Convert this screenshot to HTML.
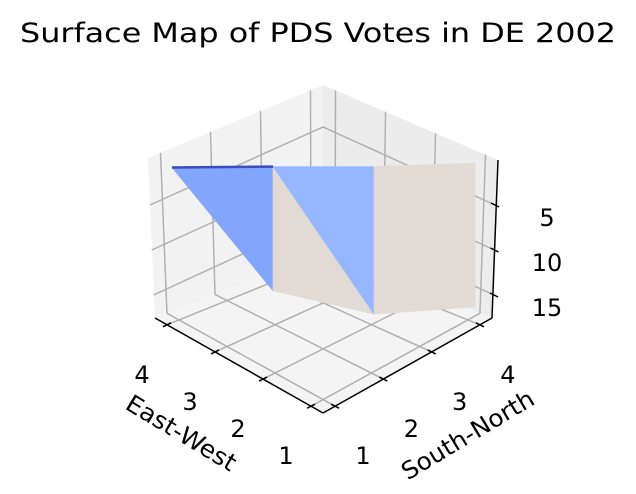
<!DOCTYPE html>
<html><head><meta charset="utf-8"><style>
html,body{margin:0;padding:0;background:#fff}
svg{display:block;font-family:"DejaVu Sans","Liberation Sans",sans-serif}
</style></head><body>
<svg id="chart" width="636" height="494" viewBox="0 0 636 494">
<text x="318" y="42" font-size="27" text-anchor="middle" textLength="596" lengthAdjust="spacingAndGlyphs" fill="#000">Surface Map of PDS Votes in DE 2002</text>
<g id="box">
<polygon points="148,158 323,85 323,252 155,318" fill="#f2f2f2"/>
<polygon points="323,85 498,160 492,318 323,252" fill="#ececec"/>
<polygon points="155,318 323,252 492,318 323,413" fill="#f4f4f4"/>
</g>
<g id="grid" stroke="#b0b0b0" stroke-width="1.5" fill="none"></g>
<g id="surface"></g>
<g id="axes" stroke="#000" stroke-width="1.5">
<line x1="155" y1="318" x2="323" y2="413"/>
<line x1="323" y1="413" x2="492" y2="318"/>
<line x1="498" y1="160" x2="492" y2="318"/>
</g>
<g id="labels" font-size="24" fill="#000"></g>
<text transform="translate(177,440) rotate(31)" font-size="24" text-anchor="middle" textLength="124" lengthAdjust="spacingAndGlyphs">East-West</text>
<text transform="translate(472,442) rotate(-31)" font-size="24" text-anchor="middle" textLength="150" lengthAdjust="spacingAndGlyphs">South-North</text>
</svg>
<script>
const xTicks=[4,3,2,1];
const yTicks=[1,2,3,4];
const zTicks=[5,10,15];
// surface columns (along the view) with top/bottom z values
const cols=[1,2,3,4];
const topZ=[-0.5,-0.6,-0.6,-1.0];
const botZ=[-0.5,13.2,15.8,15.0];
const faceColors=["#82a6fb","#e2dad5","#96b7ff","#e2dad5"];

const NS="http://www.w3.org/2000/svg";
function mk(tag,attrs,parent){const e=document.createElementNS(NS,tag);for(const k in attrs)e.setAttribute(k,attrs[k]);parent.appendChild(e);return e;}
const colX=c=>172+(c-1)*101;
const zY=z=>217+(z-5)*9;
const lerp=(a,b,t)=>[a[0]+(b[0]-a[0])*t,a[1]+(b[1]-a[1])*t];
const L=[155,318],F=[323,413],R=[492,318],B=[323,252],TL=[148,158],TB=[323,85],TR=[498,160];
const xT=x=>(x-0.75)/3.5;
const yT=y=>(y-0.75)/3.5;
const grid=document.getElementById('grid');
xTicks.forEach(x=>{
  const t=xT(x);const p=lerp(F,L,t),q=lerp(R,B,t),top=lerp(TR,TB,t),bot=lerp(R,B,t);
  const g=mk('line',{x1:p[0],y1:p[1],x2:q[0],y2:q[1]},grid);
  
  const v=mk('line',{x1:bot[0],y1:bot[1],x2:top[0],y2:top[1]},grid);
  
});
yTicks.forEach(y=>{
  const t=yT(y);const p=lerp(F,R,t),q=lerp(L,B,t),top=lerp(TL,TB,t);
  const g=mk('line',{x1:p[0],y1:p[1],x2:q[0],y2:q[1]},grid);
  
  const v=mk('line',{x1:q[0],y1:q[1],x2:top[0],y2:top[1]},grid);
  
});
zTicks.forEach(z=>{
  const l=mk('polyline',{points:`${150+(z-5)*0.35},${zY(z)-12} 323,${zY(z)-90} ${495-(z-5)*0.1},${zY(z)-12}`},grid);
  
});
const surf=document.getElementById('surface');
const P=i=>[colX(cols[i]),zY(topZ[i])], Q=i=>[colX(cols[i]),zY(botZ[i])];
const faces=[
 [P(0),P(1),Q(1)],
 [P(1),Q(2),Q(1)],
 [P(1),P(2),Q(2)],
 [P(2),P(3),Q(3),Q(2)]
];
faces.forEach((f,i)=>{
  const e=mk('polygon',{points:f.map(p=>p.join(',')).join(' '),fill:faceColors[i],stroke:faceColors[i],'stroke-width':0.6},surf);
  
});
const edge=mk('line',{x1:colX(1),y1:zY(topZ[0]),x2:colX(2),y2:zY(topZ[1]),stroke:'#3b4cc0','stroke-width':2.5},surf);

const lab=document.getElementById('labels'),ax=document.getElementById('axes');
xTicks.forEach(x=>{
  const p=lerp(F,L,xT(x));
  const tk=mk('line',{x1:p[0]-4,y1:p[1]+2,x2:p[0]+4,y2:p[1]-2},ax);
  
  const t=mk('text',{x:p[0]-25,y:p[1]+58,'text-anchor':'middle'},lab);t.textContent=x;
  
});
yTicks.forEach(y=>{
  const p=lerp(F,R,yT(y));
  const tk=mk('line',{x1:p[0]-4,y1:p[1]-2,x2:p[0]+4,y2:p[1]+2},ax);
  
  const t=mk('text',{x:p[0]+28,y:p[1]+58,'text-anchor':'middle'},lab);t.textContent=y;
  
});
zTicks.forEach(z=>{
  const yy=zY(z)-12;const xx=495-(z-5)*0.1;
  const tk=mk('line',{x1:xx-4,y1:yy-2,x2:xx+4,y2:yy+2},ax);
  
  const t=mk('text',{x:547,y:zY(z)+9,'text-anchor':'middle'},lab);t.textContent=z;
  
});
</script>
</body></html>
